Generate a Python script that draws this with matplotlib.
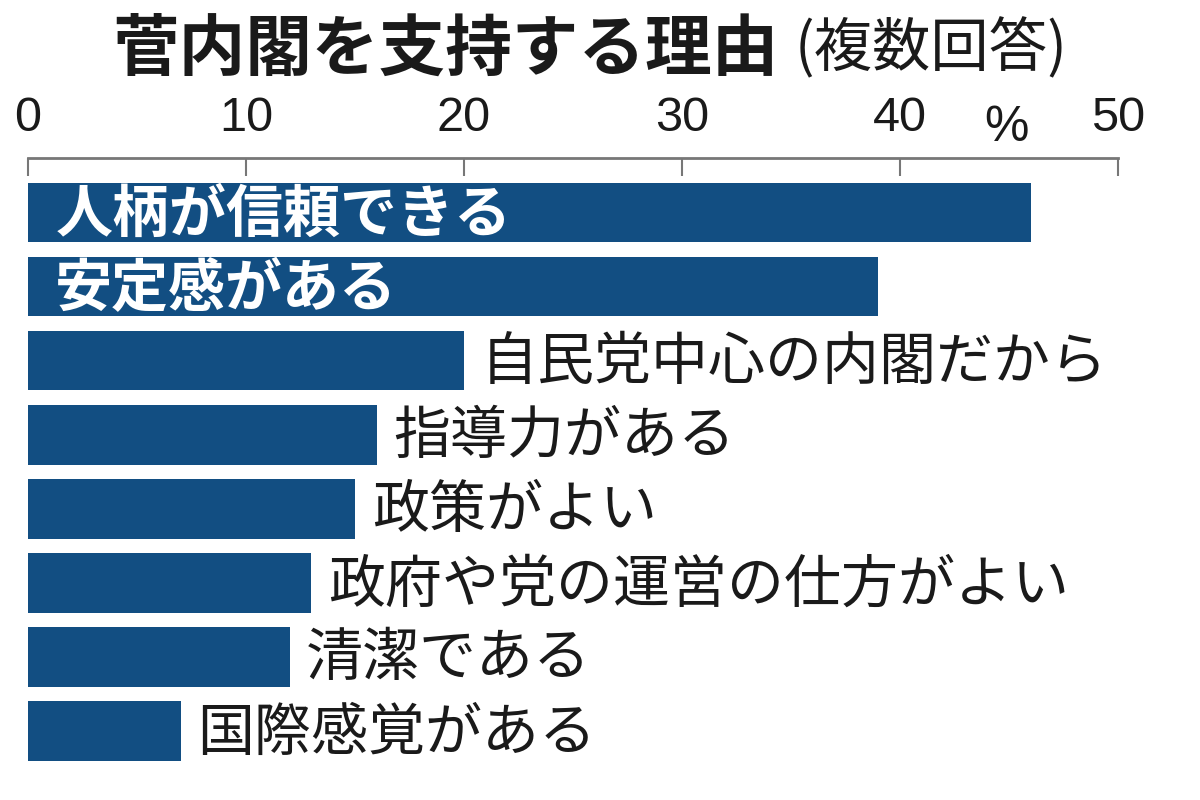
import matplotlib
matplotlib.use('Agg')
import matplotlib.pyplot as plt
import matplotlib.transforms as mtransforms

plt.rcParams['font.family'] = ['Noto Sans CJK JP', 'DejaVu Sans']

# データ
riyu = ['人柄が信頼できる', '安定感がある', '自民党中心の内閣だから', '指導力がある',
        '政策がよい', '政府や党の運営の仕方がよい', '清潔である', '国際感覚がある']
wariai = [46, 39, 20, 16, 15, 13, 12, 7]
memori = [0, 10, 20, 30, 40, 50]
naka_ni = 2  # 最初の2本はバーの中にラベル

ao = '#124e82'
kuro = '#1a1a1a'
suji = ['Liberation Sans Narrow', 'Liberation Sans', 'DejaVu Sans']

fig = plt.figure(figsize=(12, 8), dpi=100)
ax = fig.add_axes([28 / 1200, 26 / 800, 1090 / 1200, 616 / 800])

y = list(range(len(riyu)))
ax.barh(y, wariai, height=0.8, color=ao, edgecolor='none')

for i, (r, v) in enumerate(zip(riyu, wariai)):
    if i < naka_ni:
        ax.text(1.25, i + 0.03, r, color='white', fontsize=41, fontweight='bold',
                va='center', ha='left')
    else:
        ax.annotate(r, xy=(v, i + 0.03), xytext=(12, 0), textcoords='offset points',
                    fontsize=41, color=kuro, va='center', ha='left')

ax.set_xlim(0, 50)
ax.set_ylim(7.58, -0.74)
ax.set_yticks([])

ax.xaxis.tick_top()
ax.set_xticks(memori)
ax.set_xticklabels([str(m) for m in memori], family=suji, fontsize=35, color=kuro)
ax.tick_params(axis='x', direction='in', length=13, width=1.5, color='#777777', pad=12)

for s in ['bottom', 'left', 'right']:
    ax.spines[s].set_visible(False)
ax.spines['top'].set_color('#777777')
ax.spines['top'].set_linewidth(2)

# % 記号
trans = mtransforms.blended_transform_factory(ax.transData, fig.transFigure)
ax.text(44.9, 1 - 128 / 800, '%', transform=trans, ha='center', va='center',
        fontsize=36, color=kuro, family=suji)

# タイトル
fig.text(112 / 1200, 1 - 50 / 800, '菅内閣を支持する理由', fontsize=48, fontweight='bold',
         color=kuro, ha='left', va='center')
fig.text(795 / 1200, 1 - 50 / 800, '(複数回答)', fontsize=42,
         color=kuro, ha='left', va='center')

fig.savefig('out.png', dpi=100, facecolor='white')
